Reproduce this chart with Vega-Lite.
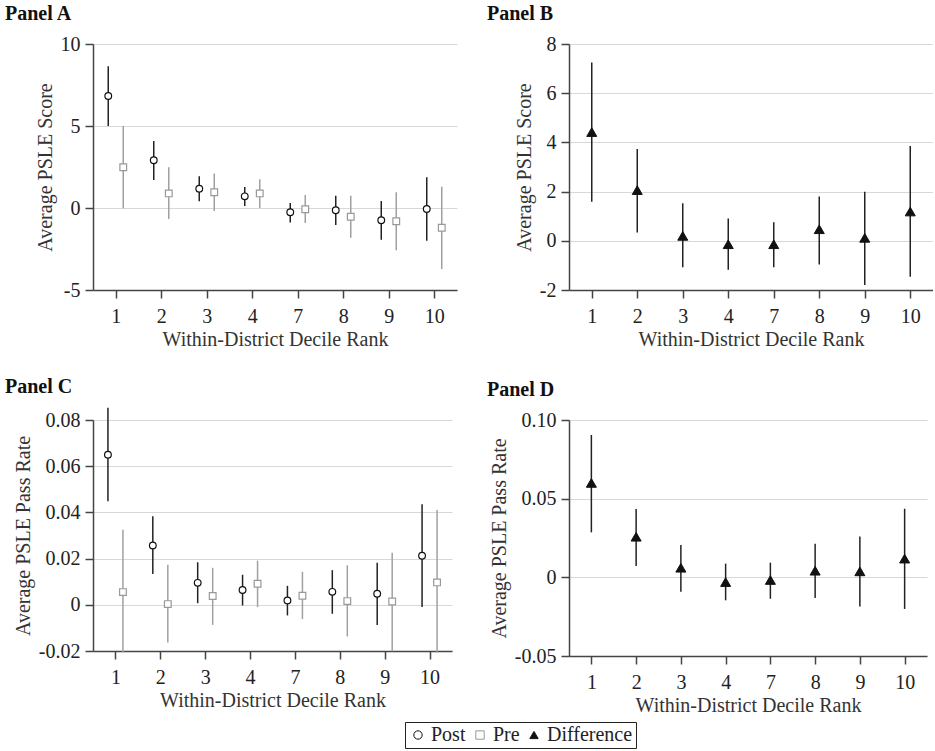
{
  "$schema": "https://vega.github.io/schema/vega-lite/v6.json",
  "padding": {"left": 5, "top": 4, "right": 0, "bottom": 0},
  "background": "white",
  "datasets": {
    "a": [
      {"rank": 1, "series": "Post", "est": 6.83, "lo": 5.0, "hi": 8.64},
      {"rank": 2, "series": "Post", "est": 2.91, "lo": 1.71, "hi": 4.09},
      {"rank": 3, "series": "Post", "est": 1.18, "lo": 0.41, "hi": 1.93},
      {"rank": 4, "series": "Post", "est": 0.71, "lo": 0.12, "hi": 1.28},
      {"rank": 7, "series": "Post", "est": -0.26, "lo": -0.89, "hi": 0.3},
      {"rank": 8, "series": "Post", "est": -0.14, "lo": -1.04, "hi": 0.75},
      {"rank": 9, "series": "Post", "est": -0.75, "lo": -1.93, "hi": 0.43},
      {"rank": 10, "series": "Post", "est": -0.06, "lo": -1.99, "hi": 1.87},
      {"rank": 1, "series": "Pre", "est": 2.48, "lo": -0.02, "hi": 5.0},
      {"rank": 2, "series": "Pre", "est": 0.89, "lo": -0.67, "hi": 2.48},
      {"rank": 3, "series": "Pre", "est": 0.96, "lo": -0.18, "hi": 2.11},
      {"rank": 4, "series": "Pre", "est": 0.89, "lo": 0.0, "hi": 1.75},
      {"rank": 7, "series": "Pre", "est": -0.08, "lo": -0.91, "hi": 0.79},
      {"rank": 8, "series": "Pre", "est": -0.53, "lo": -1.81, "hi": 0.75},
      {"rank": 9, "series": "Pre", "est": -0.81, "lo": -2.58, "hi": 0.96},
      {"rank": 10, "series": "Pre", "est": -1.2, "lo": -3.72, "hi": 1.3}
    ],
    "b": [
      {"rank": 1, "series": "Difference", "est": 4.42, "lo": 1.59, "hi": 7.25},
      {"rank": 2, "series": "Difference", "est": 2.06, "lo": 0.34, "hi": 3.73},
      {"rank": 3, "series": "Difference", "est": 0.2, "lo": -1.08, "hi": 1.53},
      {"rank": 4, "series": "Difference", "est": -0.14, "lo": -1.18, "hi": 0.91},
      {"rank": 7, "series": "Difference", "est": -0.14, "lo": -1.08, "hi": 0.75},
      {"rank": 8, "series": "Difference", "est": 0.47, "lo": -0.96, "hi": 1.8},
      {"rank": 9, "series": "Difference", "est": 0.12, "lo": -1.8, "hi": 1.99},
      {"rank": 10, "series": "Difference", "est": 1.19, "lo": -1.46, "hi": 3.85}
    ],
    "c": [
      {"rank": 1, "series": "Post", "est": 0.065, "lo": 0.0448, "hi": 0.0853},
      {"rank": 2, "series": "Post", "est": 0.0257, "lo": 0.0133, "hi": 0.0383},
      {"rank": 3, "series": "Post", "est": 0.0095, "lo": 0.0007, "hi": 0.0184},
      {"rank": 4, "series": "Post", "est": 0.0064, "lo": -0.0003, "hi": 0.013},
      {"rank": 7, "series": "Post", "est": 0.0019, "lo": -0.0046, "hi": 0.0082},
      {"rank": 8, "series": "Post", "est": 0.0056, "lo": -0.0039, "hi": 0.015},
      {"rank": 9, "series": "Post", "est": 0.0048, "lo": -0.0087, "hi": 0.0182},
      {"rank": 10, "series": "Post", "est": 0.0212, "lo": -0.001, "hi": 0.0435},
      {"rank": 1, "series": "Pre", "est": 0.0055, "lo": -0.0205, "hi": 0.0325},
      {"rank": 2, "series": "Pre", "est": 0.0003, "lo": -0.0163, "hi": 0.0173},
      {"rank": 3, "series": "Pre", "est": 0.0038, "lo": -0.0087, "hi": 0.016},
      {"rank": 4, "series": "Pre", "est": 0.0091, "lo": -0.001, "hi": 0.0191},
      {"rank": 7, "series": "Pre", "est": 0.0039, "lo": -0.0062, "hi": 0.0143},
      {"rank": 8, "series": "Pre", "est": 0.0016, "lo": -0.0137, "hi": 0.0171},
      {"rank": 9, "series": "Pre", "est": 0.0014, "lo": -0.0201, "hi": 0.0225},
      {"rank": 10, "series": "Pre", "est": 0.0097, "lo": -0.0207, "hi": 0.041}
    ],
    "d": [
      {"rank": 1, "series": "Difference", "est": 0.06, "lo": 0.0286, "hi": 0.0905},
      {"rank": 2, "series": "Difference", "est": 0.0258, "lo": 0.0072, "hi": 0.0434},
      {"rank": 3, "series": "Difference", "est": 0.0061, "lo": -0.0091, "hi": 0.0206},
      {"rank": 4, "series": "Difference", "est": -0.003, "lo": -0.0146, "hi": 0.0087},
      {"rank": 7, "series": "Difference", "est": -0.0017, "lo": -0.0136, "hi": 0.0093},
      {"rank": 8, "series": "Difference", "est": 0.0042, "lo": -0.0131, "hi": 0.0214},
      {"rank": 9, "series": "Difference", "est": 0.0038, "lo": -0.0186, "hi": 0.026},
      {"rank": 10, "series": "Difference", "est": 0.0119, "lo": -0.0201, "hi": 0.0436}
    ]
  },
  "config": {
    "font": "Liberation Serif",
    "view": {"stroke": null},
    "style": {"guide-label": {"font": "Liberation Serif"}, "guide-title": {"font": "Liberation Serif"}},
    "axis": {
      "labelFont": "Liberation Serif",
      "titleFont": "Liberation Serif",
      "labelFontSize": 20,
      "titleFontSize": 20,
      "titleFontWeight": "normal",
      "labelColor": "#222",
      "titleColor": "#333",
      "domainColor": "#444",
      "domainWidth": 1.5,
      "tickColor": "#444",
      "tickWidth": 1.5,
      "tickSize": 8,
      "gridColor": "#d8d8d8",
      "gridWidth": 1.2,
      "labelPadding": 5,
      "titlePadding": 5
    },
    "axisX": {"grid": false, "labelAngle": 0, "labelPadding": 8, "titlePadding": 3},
    "axisY": {"grid": true},
    "title": {"font": "Liberation Serif", "fontSize": 20, "fontWeight": "bold", "color": "#111", "anchor": "start", "frame": "group", "offset": 10},
    "legend": {
      "orient": "none",
      "legendX": 312,
      "legendY": 678,
      "direction": "horizontal",
      "labelFont": "Liberation Serif",
      "labelFontSize": 20,
      "labelColor": "#222",
      "strokeColor": "#222",
      "padding": 3,
      "columnPadding": 4,
      "labelOffset": 3,
      "symbolSize": 70,
      "symbolStrokeWidth": 1
    }
  },
  "columns": 2,
  "spacing": {"row": 28, "column": 30},
  "concat": [
    {
      "title": {"text": "Panel A", "dx": -88},
      "width": 364,
      "height": 246,
      "data": {"name": "a"},
      "encoding": {
        "x": {"field": "rank", "type": "ordinal", "title": "Within-District Decile Rank", "scale": {"type": "point", "padding": 0.5, "domain": [1, 2, 3, 4, 7, 8, 9, 10]}}
      },
      "layer": [
        {
          "transform": [{"filter": "datum.series == 'Post'"}],
          "mark": {"type": "rule", "xOffset": -7.5, "color": "#222", "strokeWidth": 1.5},
          "encoding": {
            "y": {"field": "lo", "type": "quantitative", "title": "Average PSLE Score", "scale": {"domain": [-5, 10], "nice": false}, "axis": {"values": [-5, 0, 5, 10], "labelExpr": "datum.value < 0 ? '-' + format(-datum.value, 'd') : format(datum.value, 'd')"}},
            "y2": {"field": "hi"}
          }
        },
        {
          "transform": [{"filter": "datum.series == 'Pre'"}],
          "mark": {"type": "rule", "xOffset": 7.5, "color": "#a0a0a0", "strokeWidth": 1.5},
          "encoding": {
            "y": {"field": "lo", "type": "quantitative", "title": "Average PSLE Score"},
            "y2": {"field": "hi"}
          }
        },
        {
          "transform": [{"filter": "datum.series == 'Post'"}],
          "mark": {"type": "point", "xOffset": -7.5, "filled": true, "size": 45, "strokeWidth": 1.2, "opacity": 1},
          "encoding": {
            "y": {"field": "est", "type": "quantitative", "title": "Average PSLE Score"},
            "shape": {"field": "series", "type": "nominal", "title": null, "scale": {"domain": ["Post", "Pre", "Difference"], "range": ["circle", "square", "triangle-up"]}, "legend": {"labelFont": "Liberation Serif", "labelFontSize": 20, "encode": {"labels": {"update": {"font": {"value": "Liberation Serif"}}}}}},
            "fill": {"field": "series", "type": "nominal", "title": null, "scale": {"domain": ["Post", "Pre", "Difference"], "range": ["#ffffff", "#ffffff", "#111111"]}, "legend": {"labelFont": "Liberation Serif", "labelFontSize": 20, "encode": {"labels": {"update": {"font": {"value": "Liberation Serif"}}}}}},
            "stroke": {"field": "series", "type": "nominal", "title": null, "scale": {"domain": ["Post", "Pre", "Difference"], "range": ["#111111", "#999999", "#111111"]}, "legend": {"labelFont": "Liberation Serif", "labelFontSize": 20, "encode": {"labels": {"update": {"font": {"value": "Liberation Serif"}}}}}}
          }
        },
        {
          "transform": [{"filter": "datum.series == 'Pre'"}],
          "mark": {"type": "point", "xOffset": 7.5, "filled": true, "size": 45, "strokeWidth": 1.2, "opacity": 1},
          "encoding": {
            "y": {"field": "est", "type": "quantitative", "title": "Average PSLE Score"},
            "shape": {"field": "series", "type": "nominal", "title": null},
            "fill": {"field": "series", "type": "nominal", "title": null},
            "stroke": {"field": "series", "type": "nominal", "title": null}
          }
        }
      ]
    },
    {
      "title": {"text": "Panel B", "dx": -82},
      "width": 364,
      "height": 246,
      "data": {"name": "b"},
      "encoding": {
        "x": {"field": "rank", "type": "ordinal", "title": "Within-District Decile Rank", "scale": {"type": "point", "padding": 0.5, "domain": [1, 2, 3, 4, 7, 8, 9, 10]}}
      },
      "layer": [
        {
          "mark": {"type": "rule", "color": "#222", "strokeWidth": 1.5},
          "encoding": {
            "y": {"field": "lo", "type": "quantitative", "title": "Average PSLE Score", "scale": {"domain": [-2, 8], "nice": false}, "axis": {"values": [-2, 0, 2, 4, 6, 8], "labelExpr": "datum.value < 0 ? '-' + format(-datum.value, 'd') : format(datum.value, 'd')"}},
            "y2": {"field": "hi"}
          }
        },
        {
          "mark": {"type": "point", "filled": true, "size": 100, "strokeWidth": 1, "opacity": 1},
          "encoding": {
            "y": {"field": "est", "type": "quantitative", "title": "Average PSLE Score"},
            "shape": {"field": "series", "type": "nominal", "title": null},
            "fill": {"field": "series", "type": "nominal", "title": null},
            "stroke": {"field": "series", "type": "nominal", "title": null}
          }
        }
      ]
    },
    {
      "title": {"text": "Panel C", "dx": -88},
      "width": 359,
      "height": 231,
      "data": {"name": "c"},
      "encoding": {
        "x": {"field": "rank", "type": "ordinal", "title": "Within-District Decile Rank", "scale": {"type": "point", "padding": 0.5, "domain": [1, 2, 3, 4, 7, 8, 9, 10]}}
      },
      "layer": [
        {
          "transform": [{"filter": "datum.series == 'Post'"}],
          "mark": {"type": "rule", "xOffset": -7.5, "color": "#222", "strokeWidth": 1.5},
          "encoding": {
            "y": {"field": "lo", "type": "quantitative", "title": "Average PSLE Pass Rate", "scale": {"domain": [-0.02, 0.08], "nice": false}, "axis": {"values": [-0.02, 0, 0.02, 0.04, 0.06, 0.08], "labelExpr": "datum.value == 0 ? '0' : (datum.value < 0 ? '-' + format(-datum.value, '.2f') : format(datum.value, '.2f'))"}},
            "y2": {"field": "hi"}
          }
        },
        {
          "transform": [{"filter": "datum.series == 'Pre'"}],
          "mark": {"type": "rule", "xOffset": 7.5, "color": "#a0a0a0", "strokeWidth": 1.5},
          "encoding": {
            "y": {"field": "lo", "type": "quantitative", "title": "Average PSLE Pass Rate"},
            "y2": {"field": "hi"}
          }
        },
        {
          "transform": [{"filter": "datum.series == 'Post'"}],
          "mark": {"type": "point", "xOffset": -7.5, "filled": true, "size": 45, "strokeWidth": 1.2, "opacity": 1},
          "encoding": {
            "y": {"field": "est", "type": "quantitative", "title": "Average PSLE Pass Rate"},
            "shape": {"field": "series", "type": "nominal", "title": null},
            "fill": {"field": "series", "type": "nominal", "title": null},
            "stroke": {"field": "series", "type": "nominal", "title": null}
          }
        },
        {
          "transform": [{"filter": "datum.series == 'Pre'"}],
          "mark": {"type": "point", "xOffset": 7.5, "filled": true, "size": 45, "strokeWidth": 1.2, "opacity": 1},
          "encoding": {
            "y": {"field": "est", "type": "quantitative", "title": "Average PSLE Pass Rate"},
            "shape": {"field": "series", "type": "nominal", "title": null},
            "fill": {"field": "series", "type": "nominal", "title": null},
            "stroke": {"field": "series", "type": "nominal", "title": null}
          }
        }
      ]
    },
    {
      "title": {"text": "Panel D", "dx": -82},
      "width": 358,
      "height": 236,
      "data": {"name": "d"},
      "encoding": {
        "x": {"field": "rank", "type": "ordinal", "title": "Within-District Decile Rank", "scale": {"type": "point", "padding": 0.5, "domain": [1, 2, 3, 4, 7, 8, 9, 10]}}
      },
      "layer": [
        {
          "mark": {"type": "rule", "color": "#222", "strokeWidth": 1.5},
          "encoding": {
            "y": {"field": "lo", "type": "quantitative", "title": "Average PSLE Pass Rate", "scale": {"domain": [-0.05, 0.1], "nice": false}, "axis": {"values": [-0.05, 0, 0.05, 0.1], "labelExpr": "datum.value == 0 ? '0' : (datum.value < 0 ? '-' + format(-datum.value, '.2f') : format(datum.value, '.2f'))"}},
            "y2": {"field": "hi"}
          }
        },
        {
          "mark": {"type": "point", "filled": true, "size": 100, "strokeWidth": 1, "opacity": 1},
          "encoding": {
            "y": {"field": "est", "type": "quantitative", "title": "Average PSLE Pass Rate"},
            "shape": {"field": "series", "type": "nominal", "title": null},
            "fill": {"field": "series", "type": "nominal", "title": null},
            "stroke": {"field": "series", "type": "nominal", "title": null}
          }
        }
      ]
    }
  ]
}
